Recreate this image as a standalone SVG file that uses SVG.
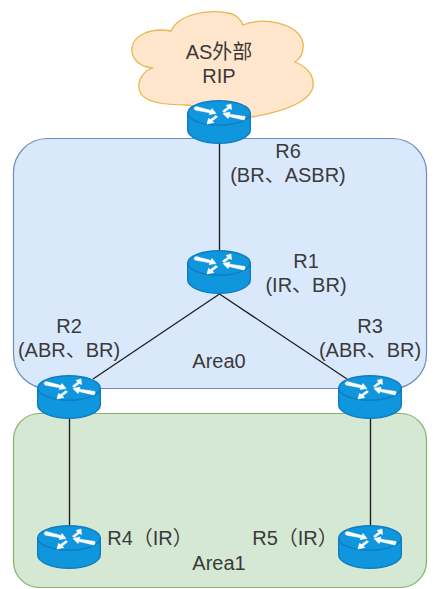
<svg xmlns="http://www.w3.org/2000/svg" width="443" height="589" viewBox="0 0 443 589">
<style>
text{font-family:"Liberation Sans","Noto Sans CJK SC",Arial,sans-serif;font-size:20px;fill:#3a3a3a;text-anchor:middle}
.l{stroke:#222;stroke-width:1.4;fill:none}
.a{fill:#fff;stroke:#fff;stroke-width:.6}
</style>
<defs>
<g id="router">
<path d="M0.7 13V30C0.7 37 15 43.300 32 43.300S63.300 37 63.300 30V13Z" fill="#0f96dc" stroke="#0f7cc0" stroke-width="1.400"/>
<ellipse cx="32" cy="13" rx="31.300" ry="12.300" fill="#0f96dc" stroke="#0f7cc0" stroke-width="1.400"/>
<path class="a" d="M7 8L9 6.500L24 10.500L25 8.500L29 13.500L22 14.500L23 12.800L8 10Z"/>
<path class="a" d="M58 18L57 20L42 16.500L41 18.500L36 13.500L43 12L42.500 14.200L58 16.500Z"/>
<path class="a" d="M44 4L44.500 9.500L42.500 8.500L37 12.500L35.500 11L41 7L39 5.500Z"/>
<path class="a" d="M20 24L21.500 18.500L23.500 19.500L29 15.500L30.500 17L25 21L27 22.500Z"/>
</g>
</defs>
<rect x="13.500" y="138.500" width="413" height="250" rx="34" fill="#dae8fc" stroke="#6c8ebf" stroke-width="1.200"/>
<rect x="13.500" y="413.500" width="413" height="174" rx="26" fill="#d5e8d4" stroke="#82b366" stroke-width="1.200"/>
<path id="cloud" d="M152 68C138 66 131 58 132 48C133 36 150 27 171 31C178 15 205 9 228 13C236 14 241 20 243 25C262 17 298 22 303 43C304 52 301 58 295 62C310 68 316 79 312 90C305 105 275 113 252 117L187 105C165 105 147 103 141 94C136 85 140 73 152 68Z" fill="#ffe6cc" stroke="#e8b64c" stroke-width="1.300"/>
<g id="connectors">
<line class="l" x1="219.500" y1="142" x2="219.500" y2="250"/>
<line class="l" x1="219.500" y1="294" x2="93" y2="379"/>
<line class="l" x1="219.500" y1="294" x2="347" y2="379"/>
<line class="l" x1="69.500" y1="419" x2="69.500" y2="525"/>
<line class="l" x1="370.500" y1="419" x2="370.500" y2="525"/>
</g>
<g id="as-external"><text x="219" y="59">AS外部</text><text x="219" y="83">RIP</text></g>
<g id="R6"><use href="#router" x="187" y="100"/><text x="288" y="158">R6</text><text x="288" y="182">(BR、ASBR)</text></g>
<g id="R1"><use href="#router" x="187" y="250"/><text x="306" y="268">R1</text><text x="306" y="292">(IR、BR)</text></g>
<g id="R2"><use href="#router" x="37" y="375"/><text x="69" y="333">R2</text><text x="69" y="357">(ABR、BR)</text></g>
<g id="R3"><use href="#router" x="338" y="375"/><text x="370" y="333">R3</text><text x="370" y="357">(ABR、BR)</text></g>
<g id="R4"><use href="#router" x="37" y="525"/><text x="150" y="545">R4（IR）</text></g>
<g id="R5"><use href="#router" x="338" y="525"/><text x="295" y="545">R5（IR）</text></g>
<text x="219" y="368">Area0</text>
<text x="219" y="570">Area1</text>
</svg>
